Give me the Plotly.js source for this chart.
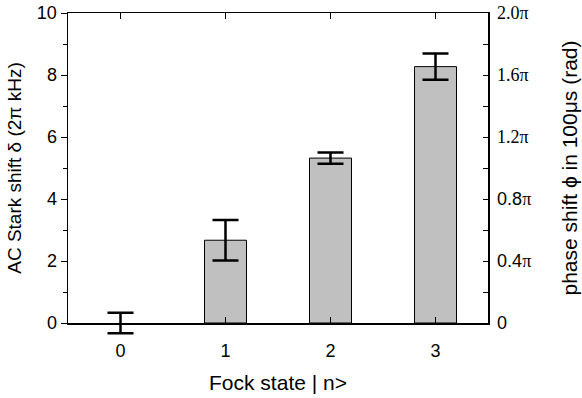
<!DOCTYPE html>
<html>
<head>
<meta charset="utf-8">
<script src="https://cdn.plot.ly/plotly-3.0.1.min.js"></script>
<style>
  html, body { margin: 0; padding: 0; background: #fff; }
  #plot { width: 582px; height: 398px; }
</style>
</head>
<body>
<div id="plot"></div>
<script>
// Fock state index and measured AC Stark shift (2pi kHz)
const fockStates = [0, 1, 2, 3];
const starkShift = [0, 2.67, 5.32, 8.27];
const starkErr = [0.33, 0.65, 0.18, 0.42];

// right axis: phase shift in units of pi
const phaseTicks = [0, 0.4, 0.8, 1.2, 1.6, 2.0];
const serif = 'Liberation Serif, Times New Roman, serif';
const phaseLabels = [
  '0',
  '0.4<span style="font-family:' + serif + '">π</span>',
  '0.8<span style="font-family:' + serif + '">π</span>',
  '<span style="font-family:' + serif + '">1.2π</span>',
  '<span style="font-family:' + serif + '">1.6π</span>',
  '<span style="font-family:' + serif + '">2.0π</span>'
];

const sans = 'Liberation Sans, Arial, sans-serif';
const tickFont = { family: sans, size: 18, color: '#000' };

// the plot area reaches a bit below zero so the error bar at n=0 is not clipped
const areaHeight = 322;   // px, from top margin to bottom margin
const belowZero = 12;     // px of area under the zero line
const pxPerUnit = (areaHeight - belowZero) / 10;
const zeroFrac = belowZero / areaHeight;

const data = [{
  type: 'bar',
  x: fockStates,
  y: starkShift,
  width: 0.4,
  marker: {
    color: '#c0c0c0',
    line: { color: '#000', width: starkShift.map(v => (v === 0 ? 0 : 1)) }
  },
  hoverinfo: 'none'
}, {
  // error bars on an overlay subplot that extends below zero
  type: 'scatter',
  mode: 'markers',
  x: fockStates,
  y: starkShift,
  xaxis: 'x2',
  yaxis: 'y3',
  marker: { size: 0, opacity: 0 },
  error_y: {
    type: 'data',
    array: starkErr,
    visible: true,
    color: '#000',
    thickness: 2.5,
    width: 13
  },
  hoverinfo: 'none'
}, {
  // empty trace so the right axis gets drawn
  type: 'scatter',
  x: [],
  y: [],
  yaxis: 'y2',
  hoverinfo: 'none'
}];

const hidden = {
  showline: false, showgrid: false, zeroline: false,
  showticklabels: false, ticks: ''
};

const layout = {
  width: 582,
  height: 398,
  margin: { l: 68, r: 94, t: 13, b: 398 - 13 - areaHeight },
  paper_bgcolor: '#fff',
  plot_bgcolor: 'rgba(0,0,0,0)',
  showlegend: false,
  font: tickFont,
  xaxis: {
    range: [-0.5, 3.5],
    tickvals: fockStates,
    ticks: 'inside',
    ticklen: 6,
    tickcolor: '#000',
    ticklabelstandoff: 11,
    showline: true,
    linecolor: '#000',
    linewidth: 1.5,
    mirror: 'ticks',
    showgrid: false,
    zeroline: false,
    tickfont: tickFont,
    title: { text: 'Fock state | n>', font: { family: sans, size: 21 }, standoff: 15 }
  },
  yaxis: {
    domain: [zeroFrac, 1],
    range: [0, 10],
    dtick: 2,
    ticks: 'outside',
    ticklen: 6,
    tickcolor: '#000',
    minor: { dtick: 1, ticks: 'outside', ticklen: 4, tickcolor: '#000' },
    showline: true,
    linecolor: '#000',
    linewidth: 1.5,
    showgrid: false,
    zeroline: false,
    tickfont: tickFont,
    title: { text: 'AC Stark shift δ (2π kHz)', font: { family: sans, size: 19 }, standoff: 10 }
  },
  yaxis2: {
    overlaying: 'y',
    side: 'right',
    anchor: 'x',
    range: [0, 2],
    tickvals: phaseTicks,
    ticktext: phaseLabels,
    ticks: 'inside',
    ticklen: 5,
    tickcolor: '#000',
    ticklabelstandoff: 4,
    minor: { dtick: 0.2, ticks: 'inside', ticklen: 5, tickcolor: '#000' },
    showline: true,
    linecolor: '#000',
    linewidth: 1.5,
    showgrid: false,
    zeroline: false,
    tickfont: tickFont,
    title: { text: 'phase shift ϕ in 100μs (rad)', font: { family: sans, size: 21 }, standoff: 32 }
  },
  xaxis2: Object.assign({ anchor: 'y3', range: [-0.5, 3.5] }, hidden),
  yaxis3: Object.assign({
    anchor: 'x2',
    domain: [0, 1],
    range: [-belowZero / pxPerUnit, 10]
  }, hidden)
};

Plotly.newPlot('plot', data, layout, { staticPlot: true, displayModeBar: false });
</script>
</body>
</html>
